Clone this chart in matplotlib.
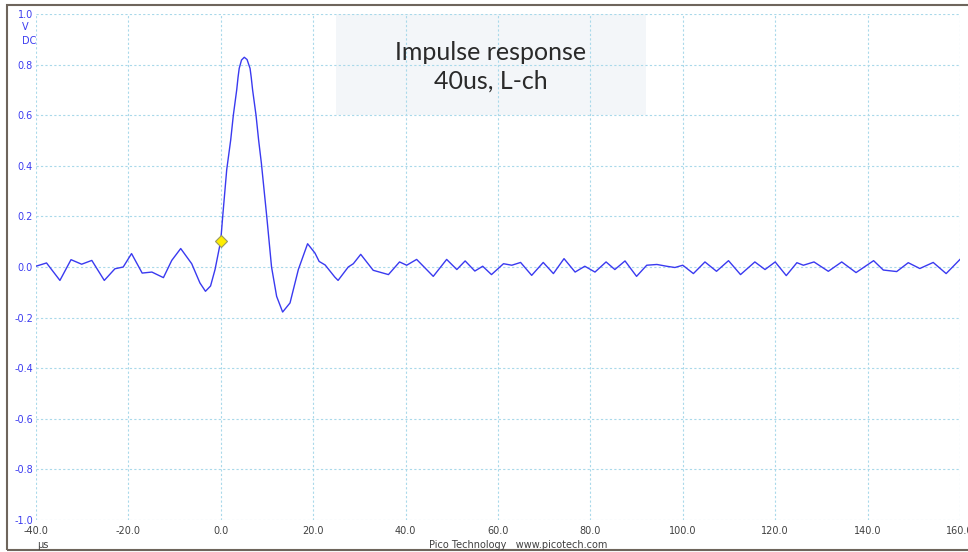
import numpy as np
import matplotlib
matplotlib.use("Agg")
import matplotlib.pyplot as plt
from matplotlib.patches import Rectangle

# time (us) and voltage (V)
t_us = [-40, -37.7, -34.8, -32.4, -30.1, -27.9, -25.2, -22.9, -21.1, -19.3,
        -17.0, -14.9, -12.4, -10.6, -8.66, -6.28, -4.5, -3.3, -2.2, -1.23,
        0.0, 0.43, 1.3, 2.16, 2.73, 3.46, 3.75, 4.0, 4.5, 5.1, 5.7,
        6.35, 6.6, 6.9, 7.64, 8.2, 8.8, 9.96, 11.0, 12.1, 13.4, 15.0,
        16.8, 18.8, 20.4, 21.3, 22.6, 24.7, 25.4, 27.6, 28.7, 30.3,
        33.0, 36.3, 38.7, 40.25, 42.4, 46.0, 48.9, 51.1, 52.9, 55.0,
        56.7, 58.6, 61.2, 63.0, 64.9, 67.3, 69.8, 72.0, 74.3, 76.7,
        78.8, 81.0, 83.4, 85.3, 87.5, 90.0, 92.2, 94.4, 96.5, 98.3,
        100.0, 102.3, 104.8, 107.3, 109.9, 112.5, 115.6, 117.8, 120.0, 122.4,
        124.7, 126.1, 128.4, 131.5, 134.4, 137.5, 141.3, 143.4, 146.3, 148.8,
        151.3, 154.2, 157.0, 160.0]
volts = [0.003, 0.016, -0.053, 0.029, 0.011, 0.026, -0.053, -0.007, 0.0, 0.053,
         -0.024, -0.02, -0.042, 0.026, 0.073, 0.013, -0.063, -0.096, -0.075, -0.01,
         0.103, 0.2, 0.385, 0.502, 0.6, 0.70, 0.75, 0.785, 0.818, 0.829, 0.82,
         0.785, 0.75, 0.70, 0.6, 0.502, 0.41, 0.2, 0.0, -0.116, -0.178, -0.142,
         -0.01, 0.092, 0.055, 0.022, 0.008, -0.04, -0.053, 0.0, 0.013, 0.05,
         -0.013, -0.03, 0.02, 0.007, 0.03, -0.037, 0.03, -0.01, 0.024, -0.016,
         0.003, -0.03, 0.013, 0.007, 0.018, -0.033, 0.018, -0.026, 0.033, -0.02,
         0.003, -0.02, 0.02, -0.01, 0.024, -0.037, 0.007, 0.01, 0.003, -0.002,
         0.007, -0.026, 0.02, -0.017, 0.025, -0.03, 0.02, -0.01, 0.02, -0.034,
         0.017, 0.007, 0.02, -0.017, 0.02, -0.022, 0.025, -0.012, -0.018, 0.017,
         -0.006, 0.018, -0.026, 0.03]

trig_t = 0.0
trig_v = 0.103

x_ticks = [-40, -20, 0, 20, 40, 60, 80, 100, 120, 140, 160]
y_ticks = [-1.0, -0.8, -0.6, -0.4, -0.2, 0.0, 0.2, 0.4, 0.6, 0.8, 1.0]

title_lines = "Impulse response\n40us, L-ch"

fig = plt.figure(figsize=(9.68, 5.52), dpi=100)
W, H = 968, 552
ax = fig.add_axes([35.9 / W, 1 - 520 / H, (960 - 35.9) / W, (520 - 14) / H])

# outer frame of the screenshot
fig.patches.append(Rectangle((6.5 / W, 1 - 550 / H), (975 - 6.5) / W, (550 - 5) / H,
                             transform=fig.transFigure, fill=False,
                             edgecolor='#6e655c', linewidth=1.5))

ax.plot(t_us, volts, color='#3a3af0', linewidth=1.0, zorder=3)
ax.plot([trig_t], [trig_v], marker='D', markersize=6.5, color='#ffee00',
        markeredgecolor='#9a9a60', markeredgewidth=0.8, zorder=4)

ax.set_xlim(-40, 160)
ax.set_ylim(-1.0, 1.0)
ax.set_xticks(x_ticks)
ax.set_yticks(y_ticks)
ax.set_xticklabels(["{:.1f}".format(v) for v in x_ticks], color='#404040', fontsize=7)
ax.set_yticklabels(["{:.1f}".format(v) for v in y_ticks], color='#3c3cf0', fontsize=7)
ax.tick_params(length=0, pad=2)
ax.tick_params(axis='x', pad=4)
for s in ax.spines.values():
    s.set_visible(False)
ax.grid(True, color='#a9d9ea', linestyle=(0, (2, 2)), linewidth=0.8, zorder=1)
ax.set_axisbelow(True)

# annotation box
ax.add_patch(Rectangle((25.0, 0.6), 67.0, 0.4, facecolor='#f3f6f9', edgecolor='none', zorder=0.5))
ax.text(58.5, 0.79, title_lines, ha='center', va='center', fontsize=18,
        color='#2a2a2a', family='Lato', linespacing=1.3, zorder=5)

fig.text(22 / W, 1 - 27 / H, "V", color='#3c3cf0', fontsize=7, va='center', ha='left')
fig.text(22 / W, 1 - 41 / H, "DC", color='#3c3cf0', fontsize=7, va='center', ha='left')
fig.text(37 / W, 1 - 545 / H, "µs", color='#404040', fontsize=7, va='center', ha='left')
fig.text(518 / W, 1 - 545 / H, "Pico Technology   www.picotech.com", color='#404040',
         fontsize=7, va='center', ha='center')

fig.savefig("out.png", dpi=100)
